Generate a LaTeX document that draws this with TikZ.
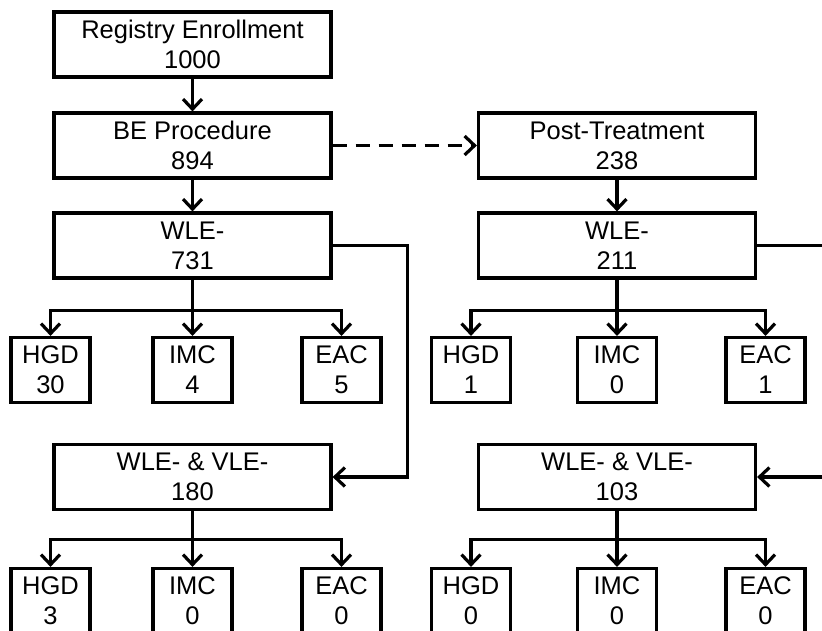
\documentclass[tikz,border=0pt]{standalone}
\usepackage{fontspec}
\setmainfont{Liberation Sans}
\usetikzlibrary{arrows.meta, calc, positioning}

\begin{document}
\begin{tikzpicture}[x=1pt,y=-1pt,
	box/.style={draw,line width=3.2pt,minimum width=277pt,minimum height=65pt,inner sep=0pt,align=center,font=\fontsize{25.5}{30}\selectfont},
	leaf/.style={box,minimum width=79pt,minimum height=65pt},
	link/.style={line width=3.2pt,-{Straight Barb[length=10pt,width=19pt,line width=3.2pt]}}]
	\useasboundingbox (0,0) rectangle (822,631);
	\clip (0,0) rectangle (822,631);
	
	\coordinate (R)  at (192.5,44.5);
	\coordinate (B)  at (192.5,145.5);
	\coordinate (W)  at (192.5,245.5);
	\coordinate (V)  at (192.5,477);
	\coordinate (P)  at (617,145.5);
	\coordinate (Wp) at (617,245.5);
	\coordinate (Vp) at (617,477);
	
	\node[box] (reg)   at (R)  {Registry Enrollment\\1000};
	\node[box] (be)    at (B)  {BE Procedure\\894};
	\node[box] (wle)   at (W)  {WLE-\\731};
	\node[box] (wv)    at (V)  {WLE- \& VLE-\\180};
	\node[box] (post)  at (P)  {Post-Treatment\\238};
	\node[box] (wlep)  at (Wp) {WLE-\\211};
	\node[box] (wvp)   at (Vp) {WLE- \& VLE-\\103};
	
	\node[leaf] (hgdA) at (50.5,370)  {HGD\\30};
	\node[leaf] (imcA) at (192.5,370) {IMC\\4};
	\node[leaf] (eacA) at (341.5,370) {EAC\\5};
	\node[leaf] (hgdB) at (50.5,601)  {HGD\\3};
	\node[leaf] (imcB) at (192.5,601) {IMC\\0};
	\node[leaf] (eacB) at (341.5,601) {EAC\\0};
	\node[leaf] (hgdC) at (471,370)   {HGD\\1};
	\node[leaf] (imcC) at (617,370)   {IMC\\0};
	\node[leaf] (eacC) at (765.5,370) {EAC\\1};
	\node[leaf] (hgdD) at (471,601)   {HGD\\0};
	\node[leaf] (imcD) at (617,601)   {IMC\\0};
	\node[leaf] (eacD) at (765.5,601) {EAC\\0};
	
	\coordinate (busA) at ($(wle.south)+(0,31)$);
	\coordinate (busB) at ($(wv.south)+(0,28)$);
	\coordinate (busC) at ($(wlep.south)+(0,31)$);
	\coordinate (busD) at ($(wvp.south)+(0,28)$);
	
	\draw[link] (reg) -- (be);
	\draw[link] (be) -- (wle);
	\draw[link] (post) -- (wlep);
	\draw[link,dash pattern=on 14pt off 9pt] (be) -- (post);
	
	\draw[link] (wle) -- (imcA);
	\draw[link] (busA) -| (hgdA);
	\draw[link] (busA) -| (eacA);
	\draw[link] (wv) -- (imcB);
	\draw[link] (busB) -| (hgdB);
	\draw[link] (busB) -| (eacB);
	\draw[link] (wlep) -- (imcC);
	\draw[link] (busC) -| (hgdC);
	\draw[link] (busC) -| (eacC);
	\draw[link] (wvp) -- (imcD);
	\draw[link] (busD) -| (hgdD);
	\draw[link] (busD) -| (eacD);
	
	\draw[link] (wle.east) -- ++(75,0) |- (wv);
	\draw[link] (wlep.east) -- ++(100,0) |- (wvp);
\end{tikzpicture}
\end{document}
